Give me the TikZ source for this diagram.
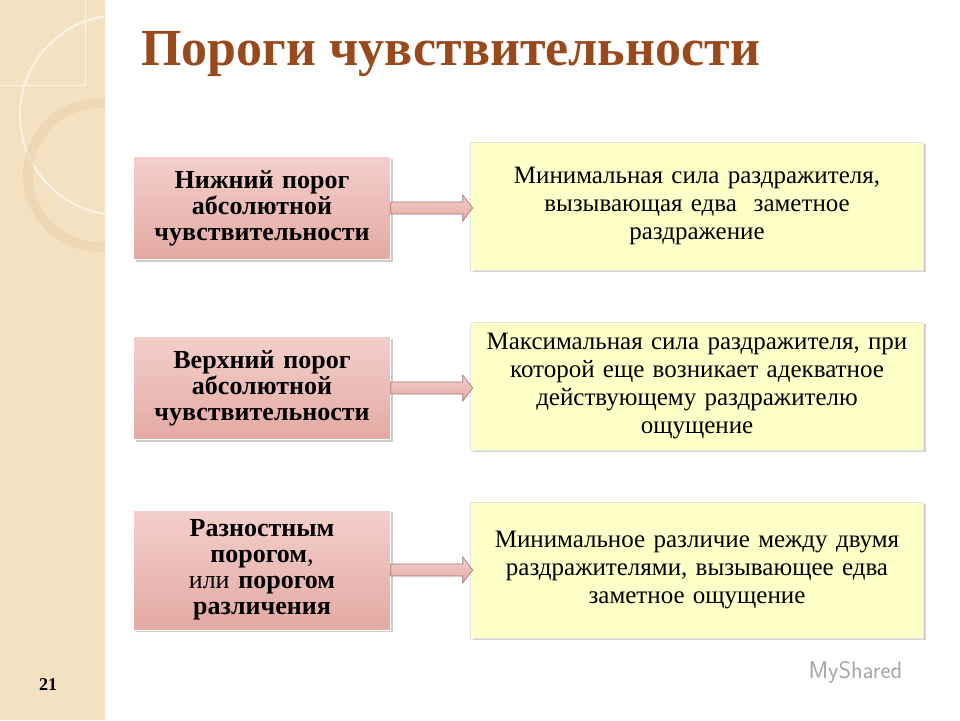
\documentclass[tikz,border=0pt]{standalone}
\usepackage{fontspec}
\setmainfont{Liberation Serif}
\usetikzlibrary{shadows}
\definecolor{beige}{HTML}{F3E2C2}
\definecolor{titlec}{HTML}{984A1C}
\definecolor{pinkA}{HTML}{F4CFCB}
\definecolor{pinkB}{HTML}{E3A9A3}
\definecolor{yel}{HTML}{FFFFC8}
\tikzset{
 lbox/.style={draw=white,line width=0.8pt,minimum width=255pt,minimum height=103pt,
   top color=pinkA,bottom color=pinkB,drop shadow={opacity=0.4},
   font=\fontsize{26}{26}\selectfont\bfseries,align=center,text width=250pt},
 rbox/.style={draw=white!80!gray,line width=0.6pt,minimum width=450pt,minimum height=128pt,
   fill=yel,drop shadow={opacity=0.35},
   font=\fontsize{25}{28}\selectfont,align=center,text width=446pt},
 arr/.style={draw=pinkB!70!black,line width=0.6pt,top color=pinkA,bottom color=pinkB}
}
\newcommand{\blockarrow}[1]{\draw[arr] (#1) ++(0,-6) -- ++(72,0) -- ++(0,-7) -- ++(10,13) -- ++(-10,13) -- ++(0,-7) -- ++(-72,0) -- cycle;}
\begin{document}
\begin{tikzpicture}[x=1pt,y=-1pt]
\useasboundingbox (0,0) rectangle (960,720);
\fill[white] (0,0) rectangle (960,720);
\fill[beige] (0,0) rectangle (105,720);
\draw[white!85!beige,line width=1.5pt] (106,0) -- (106,720);
\begin{scope}
\clip (0,0) rectangle (105,720);
\draw[white!60!beige,line width=2pt] (120,115) circle (100);
\draw[beige!80!brown,line width=10pt,opacity=0.5] (100,175) circle (72);
\draw[white!60!beige,line width=1pt] (0,85) -- (85,85) -- (85,0);
\end{scope}
\node[anchor=base west,text=titlec,font=\fontsize{52}{55}\selectfont\bfseries] (title) at (138,65) {Пороги чувствительности};

\node[lbox] (l1) at (262,208) {Нижний порог\\абсолютной\\чувствительности};
\node[lbox] (l2) at (262,388) {Верхний порог\\абсолютной\\чувствительности};
\node[lbox,minimum height=120pt] (l3) at (262,570) {Разностным\\порогом\textmd{,}\\\textmd{или} порогом\\различения};

\node[rbox] (r1) at (697,206) {Минимальная сила раздражителя,\\вызывающая едва\ \ заметное\\раздражение};
\node[rbox] (r2) at (697,386) {Максимальная сила раздражителя, при\\которой еще возникает адекватное\\действующему раздражителю\\ощущение};
\node[rbox,minimum height=136pt] (r3) at (697,570) {Минимальное различие между двумя\\раздражителями, вызывающее едва\\заметное ощущение};

\blockarrow{l1.east}
\blockarrow{l2.east}
\blockarrow{l3.east}

\node[font=\fontsize{18}{20}\selectfont\bfseries] (pg) at (48,685) {21};
\node[anchor=west,text=gray!70,font=\fontsize{24}{26}\selectfont\sffamily] (wm) at (805,672) {MyShared};
\end{tikzpicture}
\end{document}
